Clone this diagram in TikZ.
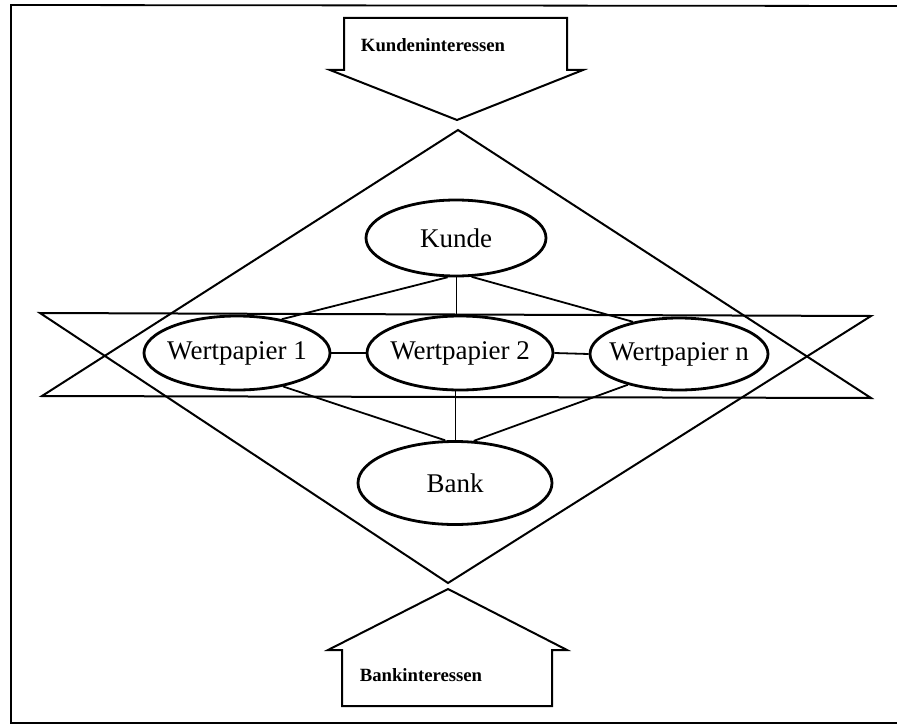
\documentclass[tikz,border=0pt]{standalone}
\usepackage{fontspec}
\setmainfont{Liberation Serif}
\usetikzlibrary{shapes.geometric}
\begin{document}
\begin{tikzpicture}[x=1pt,y=-1pt,
  frameline/.style={line width=1.8pt},
  shapeline/.style={line width=2pt, line join=miter},
  ent/.style={ellipse, draw, line width=2.8pt, fill=white, inner sep=0pt,
    font=\fontsize{27}{30}\selectfont},
  conn/.style={line width=1.8pt},
  thinconn/.style={line width=0.8pt},
  arrowtext/.style={font=\bfseries\fontsize{18.7}{22}\selectfont, inner sep=0pt}]
\useasboundingbox (0,0) rectangle (897,725);
% frame (open at right)
\draw[frameline] (897,6) -- (11,5) -- (11,723) -- (897,723);
% top arrow
\draw[shapeline] (344,18) -- (567,18) -- (567,70) -- (583,70) -- (457,120)
  -- (330,70) -- (344,70) -- cycle;
\node[arrowtext] (kint) at (433,45) {Kundeninteressen};
% bottom arrow
\draw[shapeline] (342,706) -- (552,706) -- (552,650) -- (567,650) -- (448,589)
  -- (328,650) -- (342,650) -- cycle;
\node[arrowtext] (bint) at (421,675) {Bankinteressen};
% triangles
\draw[shapeline] (458,130) -- (871,398) -- (42,396) -- cycle;
\draw[shapeline] (448,583) -- (40,313) -- (871,316) -- cycle;
% entities
\node[ent, minimum width=180pt, minimum height=76pt] (kunde) at (456,238) {\makebox[0pt]{Kunde}};
\node[ent, minimum width=186pt, minimum height=74pt] (w1) at (237,353) {\makebox[0pt]{Wertpapier 1}};
\node[ent, minimum width=186pt, minimum height=74pt] (w2) at (460,353) {\makebox[0pt]{Wertpapier 2}};
\node[ent, minimum width=178pt, minimum height=72pt] (wn) at (679,354) {\makebox[0pt]{Wertpapier n}};
\node[ent, minimum width=194pt, minimum height=83pt] (bank) at (455,483) {\makebox[0pt]{Bank}};
% connectors
\draw[thinconn] (kunde.south) -- (kunde.south |- w2.north);
\draw[thinconn] (bank.north |- w2.south) -- (bank.north);
\draw[conn] (kunde.258) -- (w1.37);
\draw[conn] (kunde.292) -- (wn.145);
\draw[conn] (w1.east) -- (w2.west);
\draw[conn] (w2.east) -- (wn.west);
\draw[conn] (w1.324) -- (bank.103);
\draw[conn] (wn.211) -- (bank.66);
\end{tikzpicture}
\end{document}
